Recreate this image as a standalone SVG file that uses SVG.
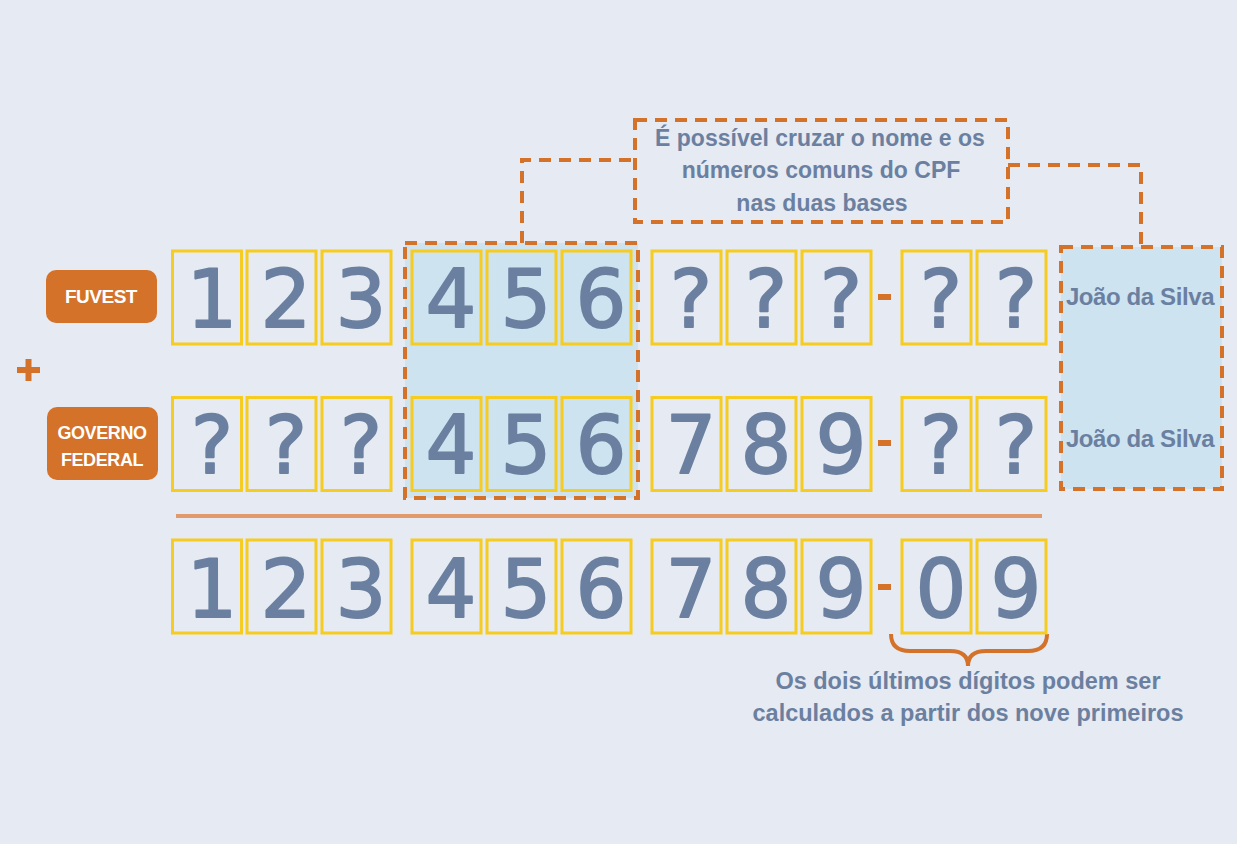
<svg xmlns="http://www.w3.org/2000/svg" width="1237" height="844" viewBox="0 0 1237 844">
<style>
.cell{fill:none;stroke:#f5cc1f;stroke-width:3}
.dig{font-family:"DejaVu Sans",sans-serif;font-size:80px;fill:#6b80a0;stroke:#6b80a0;stroke-width:1.8;stroke-linejoin:round;text-anchor:middle}
.dash{fill:none;stroke:#d4722a;stroke-width:4;stroke-dasharray:12 8}
.hl{fill:#cde3f0}
.lbl{fill:#d4722a}
.lt{font-family:"Liberation Sans",Arial,sans-serif;font-weight:bold;fill:#ffffff;text-anchor:middle}
.bt{font-family:"Liberation Sans",Arial,sans-serif;font-weight:bold;fill:#6b80a0;text-anchor:middle}
.hy{fill:#d4722a}
</style>
<rect x="0" y="0" width="1237" height="844" fill="#e6eaf2"/>

<g id="highlight-common">
<rect class="hl" x="405" y="243" width="233" height="255"/>
<rect class="dash" x="405" y="243" width="233" height="255"/>
</g>

<g id="names-box">
<rect class="hl" x="1061" y="247" width="161" height="242"/>
<rect class="dash" x="1061" y="247" width="161" height="242"/>
<text class="bt" x="1140" y="305" font-size="24" letter-spacing="-0.4">João da Silva</text>
<text class="bt" x="1140" y="447" font-size="24" letter-spacing="-0.4">João da Silva</text>
</g>

<g id="note-box">
<rect class="dash" x="635" y="120" width="373" height="102"/>
<text class="bt" x="820" y="146" font-size="23">É possível cruzar o nome e os</text>
<text class="bt" x="821" y="178" font-size="23">números comuns do CPF</text>
<text class="bt" x="822" y="211" font-size="23">nas duas bases</text>
</g>

<g id="connectors">
<path class="dash" d="M522,243 V160 H635"/>
<path class="dash" d="M1008,165 H1141 V247"/>
<line x1="176" y1="516" x2="1042" y2="516" stroke="#e09a6c" stroke-width="4"/>
<path d="M891,634 Q891,651 910,651 H950 Q968,651 968,666 Q968,651 986,651 H1028 Q1047,651 1047,634" fill="none" stroke="#d4722a" stroke-width="4"/>
</g>

<g id="label-fuvest">
<rect class="lbl" x="46" y="270" width="111" height="53" rx="10"/>
<text class="lt" x="101" y="303" font-size="19" letter-spacing="-0.5">FUVEST</text>
</g>

<g id="label-governo">
<rect class="lbl" x="47" y="407" width="111" height="73" rx="10"/>
<text class="lt" x="102" y="439" font-size="18" letter-spacing="-0.4">GOVERNO</text>
<text class="lt" x="102" y="466" font-size="18" letter-spacing="-0.4">FEDERAL</text>
</g>

<g id="plus">
<rect class="hy" x="17" y="367" width="23" height="6"/>
<rect class="hy" x="25.5" y="359" width="6" height="22"/>
</g>

<g id="row-fuvest">
<rect class="cell" x="172.5" y="251" width="69" height="93"/>
<rect class="cell" x="247" y="251" width="69" height="93"/>
<rect class="cell" x="322" y="251" width="69" height="93"/>
<rect class="cell" x="412" y="251" width="69" height="93"/>
<rect class="cell" x="487" y="251" width="69" height="93"/>
<rect class="cell" x="562" y="251" width="69" height="93"/>
<rect class="cell" x="652" y="251" width="69" height="93"/>
<rect class="cell" x="727" y="251" width="69" height="93"/>
<rect class="cell" x="802" y="251" width="69" height="93"/>
<rect class="cell" x="902" y="251" width="69" height="93"/>
<rect class="cell" x="977" y="251" width="69" height="93"/>
<rect class="hy" x="878" y="294" width="13" height="6"/>
<text class="dig" x="212" y="327">1</text>
<text class="dig" x="286" y="327">2</text>
<text class="dig" x="361" y="327">3</text>
<text class="dig" x="451" y="327">4</text>
<text class="dig" x="526" y="327">5</text>
<text class="dig" x="601" y="327">6</text>
<text class="dig" x="691" y="327">?</text>
<text class="dig" x="766" y="327">?</text>
<text class="dig" x="841" y="327">?</text>
<text class="dig" x="941" y="327">?</text>
<text class="dig" x="1016" y="327">?</text>
</g>

<g id="row-governo">
<rect class="cell" x="172.5" y="397.5" width="69" height="93"/>
<rect class="cell" x="247" y="397.5" width="69" height="93"/>
<rect class="cell" x="322" y="397.5" width="69" height="93"/>
<rect class="cell" x="412" y="397.5" width="69" height="93"/>
<rect class="cell" x="487" y="397.5" width="69" height="93"/>
<rect class="cell" x="562" y="397.5" width="69" height="93"/>
<rect class="cell" x="652" y="397.5" width="69" height="93"/>
<rect class="cell" x="727" y="397.5" width="69" height="93"/>
<rect class="cell" x="802" y="397.5" width="69" height="93"/>
<rect class="cell" x="902" y="397.5" width="69" height="93"/>
<rect class="cell" x="977" y="397.5" width="69" height="93"/>
<rect class="hy" x="878" y="440" width="13" height="6"/>
<text class="dig" x="212" y="473">?</text>
<text class="dig" x="286" y="473">?</text>
<text class="dig" x="361" y="473">?</text>
<text class="dig" x="451" y="473">4</text>
<text class="dig" x="526" y="473">5</text>
<text class="dig" x="601" y="473">6</text>
<text class="dig" x="691" y="473">7</text>
<text class="dig" x="766" y="473">8</text>
<text class="dig" x="841" y="473">9</text>
<text class="dig" x="941" y="473">?</text>
<text class="dig" x="1016" y="473">?</text>
</g>

<g id="row-result">
<rect class="cell" x="172.5" y="540" width="69" height="93"/>
<rect class="cell" x="247" y="540" width="69" height="93"/>
<rect class="cell" x="322" y="540" width="69" height="93"/>
<rect class="cell" x="412" y="540" width="69" height="93"/>
<rect class="cell" x="487" y="540" width="69" height="93"/>
<rect class="cell" x="562" y="540" width="69" height="93"/>
<rect class="cell" x="652" y="540" width="69" height="93"/>
<rect class="cell" x="727" y="540" width="69" height="93"/>
<rect class="cell" x="802" y="540" width="69" height="93"/>
<rect class="cell" x="902" y="540" width="69" height="93"/>
<rect class="cell" x="977" y="540" width="69" height="93"/>
<rect class="hy" x="878" y="584" width="13" height="6"/>
<text class="dig" x="212" y="617">1</text>
<text class="dig" x="286" y="617">2</text>
<text class="dig" x="361" y="617">3</text>
<text class="dig" x="451" y="617">4</text>
<text class="dig" x="526" y="617">5</text>
<text class="dig" x="601" y="617">6</text>
<text class="dig" x="691" y="617">7</text>
<text class="dig" x="766" y="617">8</text>
<text class="dig" x="841" y="617">9</text>
<text class="dig" x="941" y="617">0</text>
<text class="dig" x="1016" y="617">9</text>
</g>

<g id="note-bottom">
<text class="bt" x="968" y="689" font-size="23.5">Os dois últimos dígitos podem ser</text>
<text class="bt" x="968" y="721" font-size="23.5">calculados a partir dos nove primeiros</text>
</g>
</svg>
